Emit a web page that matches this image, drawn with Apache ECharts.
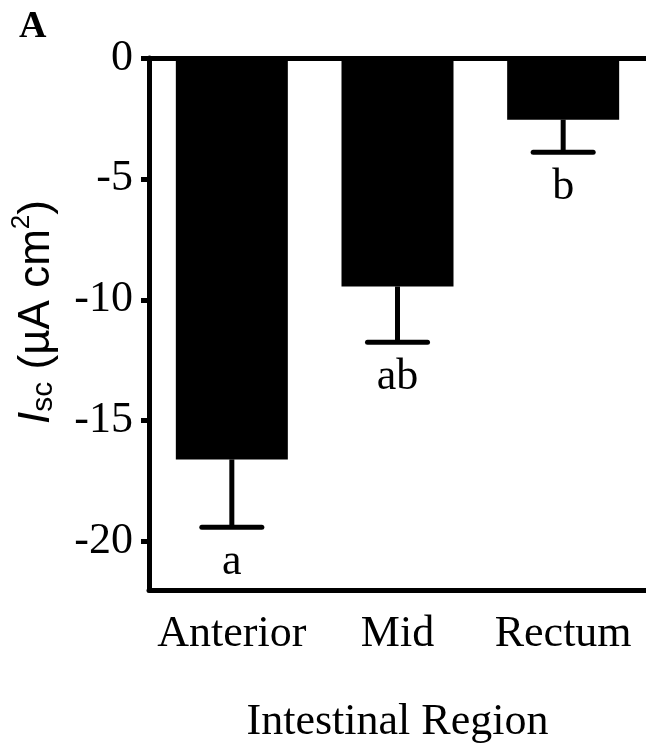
<!DOCTYPE html>
<html>
<head>
<meta charset="utf-8">
<script src="https://cdn.jsdelivr.net/npm/echarts@6/dist/echarts.min.js"></script>
<style>
  html, body { margin: 0; padding: 0; background: #fff; }
  #chart { width: 646px; height: 744px; }
</style>
</head>
<body>
<div id="chart"></div>
<script>
// values
const categories = ['Anterior', 'Mid', 'Rectum']
const means = [-16.6, -9.45, -2.55]
const sems = [2.8, 2.3, 1.35]
const letters = ['a', 'ab', 'b']
const yTicks = [0, -5, -10, -15, -20]

const serif = '"Liberation Serif", "Times New Roman", serif'
const sans = '"Liberation Sans", Arial, sans-serif'

const errData = means.map((m, i) => [i, m, m - sems[i]])

function renderError(params, api) {
  const x = api.value(0)
  const top = api.coord([x, api.value(1)])
  const low = api.coord([x, api.value(2)])
  const half = 30
  return {
    type: 'group',
    children: [
      {
        type: 'line',
        shape: { x1: top[0], y1: top[1], x2: low[0], y2: low[1] },
        style: { stroke: '#000', lineWidth: 5 }
      },
      {
        type: 'line',
        shape: { x1: low[0] - half, y1: low[1], x2: low[0] + half, y2: low[1] },
        style: { stroke: '#000', lineWidth: 5, lineCap: 'round' }
      },
      {
        type: 'text',
        x: low[0],
        y: low[1] + 35,
        style: {
          text: letters[params.dataIndex],
          fill: '#000',
          fontSize: 44,
          fontFamily: serif,
          align: 'center',
          verticalAlign: 'middle',
          textAlign: 'center',
          textVerticalAlign: 'middle'
        }
      }
    ]
  }
}

const chart = echarts.init(document.getElementById('chart'))

chart.setOption({
  backgroundColor: '#fff',
  animation: false,
  grid: { left: 149, right: 0, top: 58, bottom: 154, outerBoundsMode: 'none', containLabel: false },
  graphic: [{
    type: 'text',
    left: 19,
    top: 8,
    style: { text: 'A', fill: '#000', fontSize: 38, fontWeight: 'bold', fontFamily: serif }
  }],
  xAxis: [
    {
      type: 'category',
      data: categories,
      position: 'bottom',
      axisLine: { onZero: false, lineStyle: { color: '#000', width: 5 } },
      axisTick: { alignWithLabel: true, length: 10, lineStyle: { color: '#000', width: 5 } },
      axisLabel: { interval: 0, margin: 22, color: '#000', fontSize: 44, fontFamily: serif, lineHeight: 44 },
      name: 'Intestinal Region',
      nameLocation: 'middle',
      nameGap: 110,
      nameTextStyle: { color: '#000', fontSize: 44, fontFamily: serif }
    },
    {
      type: 'category',
      data: categories,
      position: 'top',
      axisLine: { onZero: false, lineStyle: { color: '#000', width: 5 } },
      axisTick: { show: false },
      axisLabel: { show: false }
    }
  ],
  yAxis: {
    type: 'value',
    min: -22,
    max: 0,
    axisLine: { show: true, lineStyle: { color: '#000', width: 5 } },
    axisTick: { show: true, length: 8, customValues: yTicks, lineStyle: { color: '#000', width: 5 } },
    axisLabel: { customValues: yTicks, margin: 16, color: '#000', fontSize: 44, fontFamily: serif },
    splitLine: { show: false },
    name: '{i|I}{sub|sc}{n| (µA cm}{sup|2}{n|)}',
    nameLocation: 'middle',
    nameRotate: 90,
    nameGap: 90,
    nameTextStyle: {
      color: '#000',
      fontFamily: sans,
      fontSize: 44,
      padding: [0, 0, 0, 24],
      rich: {
        i: { fontStyle: 'italic', fontSize: 44, fontFamily: sans, lineHeight: 50, verticalAlign: 'bottom', color: '#000' },
        sub: { fontSize: 30, fontFamily: sans, lineHeight: 30, verticalAlign: 'bottom', color: '#000' },
        n: { fontSize: 44, fontFamily: sans, lineHeight: 50, verticalAlign: 'bottom', color: '#000' },
        sup: { fontSize: 26, fontFamily: sans, lineHeight: 22, verticalAlign: 'top', color: '#000' }
      }
    }
  },
  series: [
    {
      type: 'bar',
      data: means,
      barWidth: 112,
      itemStyle: { color: '#000' },
      z: 2
    },
    {
      type: 'custom',
      data: errData,
      encode: { x: 0, y: [1, 2] },
      renderItem: renderError,
      z: 3
    }
  ]
})

window.addEventListener('resize', () => {
  chart.resize()
})
</script>
</body>
</html>
